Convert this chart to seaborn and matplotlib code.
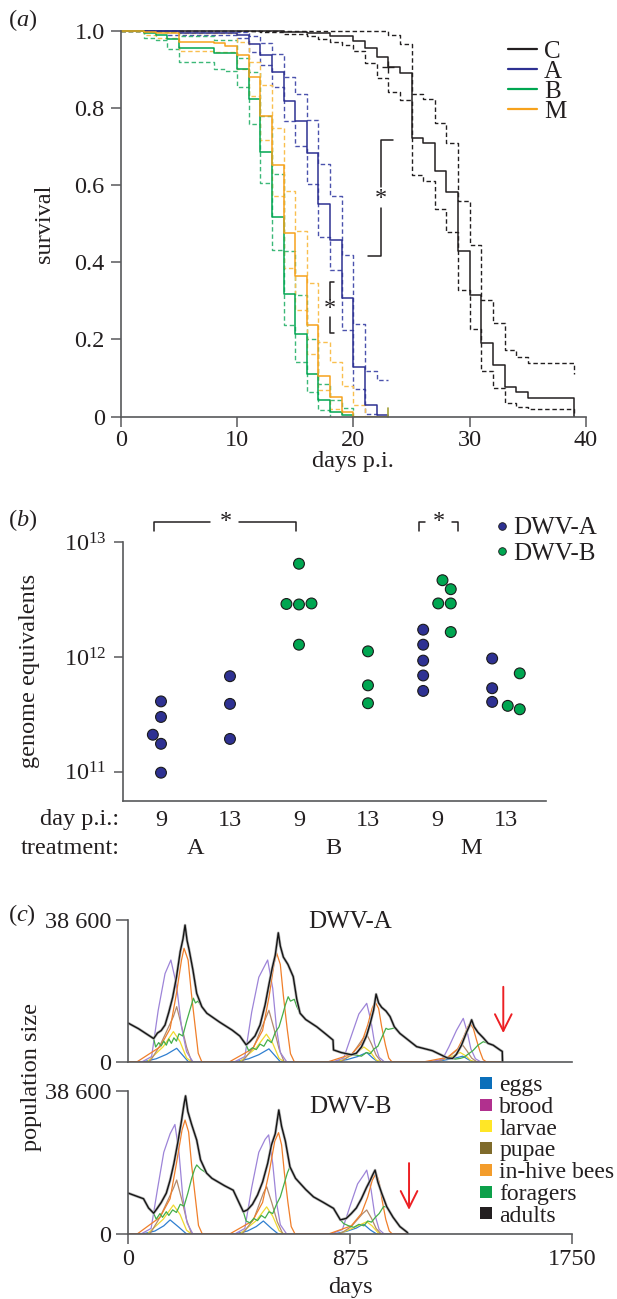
import numpy as np
import pandas as pd
import matplotlib
matplotlib.use("Agg")
import matplotlib.pyplot as plt
import matplotlib.patheffects as pe
from matplotlib.lines import Line2D
import seaborn as sns

# ---------------- panel (a): survival (Kaplan-Meier steps) ----------------
C_day = [0, 10, 14, 16, 18, 20, 21, 22, 23, 24, 25, 26, 27, 28, 29, 30, 31, 32, 33, 34, 35, 39]
C_surv = [1.0, 0.998, 0.996, 0.993, 0.986, 0.974, 0.956, 0.931, 0.907, 0.891, 0.723, 0.708, 0.637,
          0.581, 0.429, 0.315, 0.190, 0.134, 0.078, 0.065, 0.049, 0.0]
C_hi_day = [0, 23, 24, 25, 26, 27, 28, 29, 30, 31, 32, 33, 34, 35, 39]
C_hi = [1.0, 0.988, 0.965, 0.836, 0.822, 0.760, 0.708, 0.559, 0.445, 0.302, 0.242, 0.173, 0.155, 0.138, 0.110]
C_lo_day = [0, 12, 14, 16, 17, 18, 19, 20, 21, 22, 23, 24, 25, 26, 27, 28, 29, 30, 31, 32, 33, 34, 35, 39]
C_lo = [1.0, 0.997, 0.992, 0.985, 0.978, 0.970, 0.962, 0.948, 0.915, 0.877, 0.842, 0.820, 0.626, 0.611,
        0.537, 0.479, 0.328, 0.226, 0.118, 0.075, 0.036, 0.026, 0.019, 0.0]

A_day = [0, 2, 5, 10, 11, 12, 13, 14, 15, 16, 17, 18, 19, 20, 21, 22, 23]
A_surv = [1.0, 0.998, 0.993, 0.989, 0.965, 0.937, 0.892, 0.819, 0.765, 0.682, 0.551, 0.459, 0.307,
          0.130, 0.030, 0.004, 0.0]
A_hi_day = [0, 5, 10, 11, 12, 13, 14, 15, 16, 17, 18, 19, 20, 21, 22, 23]
A_hi = [1.0, 0.998, 0.997, 0.986, 0.967, 0.939, 0.879, 0.836, 0.769, 0.655, 0.573, 0.420, 0.239, 0.119, 0.095, 0.095]
A_lo_day = [0, 4, 10, 11, 12, 13, 14, 15, 16, 17, 18, 19, 20, 21, 22]
A_lo = [1.0, 0.990, 0.980, 0.946, 0.910, 0.855, 0.767, 0.700, 0.604, 0.466, 0.380, 0.225, 0.073, 0.006, 0.0]

B_day = [0, 2, 3, 4, 5, 8, 10, 11, 12, 13, 14, 15, 16, 17, 18, 19, 20, 23]
B_surv = [1.0, 0.994, 0.990, 0.979, 0.955, 0.943, 0.900, 0.822, 0.686, 0.518, 0.318, 0.213, 0.110,
          0.043, 0.013, 0.004, 0.0, 0.0]
B_hi_day = [0, 4, 5, 8, 10, 11, 12, 13, 14, 15, 16, 17, 18, 19, 20]
B_hi = [1.0, 0.997, 0.985, 0.975, 0.930, 0.894, 0.780, 0.629, 0.430, 0.315, 0.200, 0.086, 0.043, 0.022, 0.0]
B_lo_day = [0, 2, 3, 4, 5, 8, 9, 10, 11, 12, 13, 14, 15, 16, 17, 18]
B_lo = [1.0, 0.980, 0.975, 0.953, 0.918, 0.900, 0.895, 0.853, 0.757, 0.605, 0.432, 0.237, 0.142, 0.065, 0.017, 0.0]

M_day = [0, 2, 3, 5, 8, 9, 10, 11, 12, 13, 14, 15, 16, 17, 18, 19, 20, 23]
M_surv = [1.0, 0.997, 0.993, 0.970, 0.967, 0.960, 0.937, 0.879, 0.780, 0.652, 0.475, 0.364, 0.237,
          0.105, 0.052, 0.012, 0.0, 0.0]
M_hi_day = [0, 5, 10, 11, 12, 13, 14, 15, 16, 17, 18, 19, 20, 21]
M_hi = [1.0, 0.995, 0.970, 0.920, 0.860, 0.747, 0.585, 0.480, 0.347, 0.194, 0.142, 0.080, 0.030, 0.0]
M_lo_day = [0, 2, 3, 5, 8, 10, 11, 12, 13, 14, 15, 16, 17, 18, 19]
M_lo = [1.0, 0.990, 0.980, 0.948, 0.945, 0.900, 0.830, 0.717, 0.572, 0.384, 0.276, 0.162, 0.069, 0.020, 0.0]

surv_groups = ["C", "A", "B", "M"]
x_ticks_a = [0, 10, 20, 30, 40]
y_ticks_a = [0, 0.2, 0.4, 0.6, 0.8, 1.0]
y_ticklabels_a = ["0", "0.2", "0.4", "0.6", "0.8", "1.0"]

# ---------------- panel (b): genome equivalents ----------------
b_categories = ["A9", "A13", "B9", "B13", "M9", "M13"]
b_day_labels = ["9", "13", "9", "13", "9", "13"]
b_treatments = ["A", "B", "M"]
A9_dwvA = [3.0e11, 4.1e11, 1.75e11, 2.1e11, 9.8e10]
A13_dwvA = [6.8e11, 3.9e11, 1.93e11]
B9_dwvB = [6.5e12, 2.87e12, 2.9e12, 2.93e12, 1.28e12]
B13_dwvB = [1.12e12, 5.66e11, 3.95e11]
M9_dwvA = [1.73e12, 1.28e12, 9.3e11, 6.9e11, 5.06e11]
M9_dwvB = [4.67e12, 3.9e12, 2.93e12, 2.93e12, 1.65e12]
M13_dwvA = [9.7e11, 5.34e11, 4.06e11]
M13_dwvB = [7.2e11, 3.75e11, 3.5e11]

# ---------------- panel (c): simulated colony dynamics ----------------
c_series = ["eggs", "brood", "larvae", "pupae", "in-hive bees", "foragers", "adults"]

ca_eggs_day = [0, 60, 110, 151, 191, 218, 237, 425, 475, 515, 555, 582, 600, 815, 865, 905, 941, 965, 985,
               1195, 1245, 1285, 1320, 1342, 1360, 1476]
ca_eggs_val = [0, 0, 800, 2000, 3650, 1500, 0, 0, 800, 1900, 3500, 1400, 0, 0, 600, 1400, 2500, 1000, 0,
               0, 400, 900, 1500, 600, 0, 0]
ca_brood_day = [0, 55, 92, 118, 145, 168, 190, 210, 230, 255, 420, 460, 487, 515, 550, 570, 585, 600, 625,
                810, 850, 880, 910, 941, 958, 972, 990, 1010, 1200, 1240, 1265, 1295, 1322, 1338, 1352, 1370, 1390, 1476]
ca_brood_val = [0, 0, 1400, 14000, 24000, 27700, 21000, 9500, 2700, 0, 0, 1400, 13500, 23000, 27700, 20000, 9000, 2500, 0,
                0, 1000, 7000, 13000, 15900, 11000, 5000, 1200, 0, 0, 700, 4000, 8500, 11800, 8000, 3500, 800, 0, 0]
ca_larvae_day = [0, 75, 138, 178, 204, 230, 250, 440, 505, 545, 570, 595, 615, 830, 890, 930, 955, 978, 995,
                 1210, 1270, 1310, 1332, 1352, 1370, 1476]
ca_larvae_val = [0, 0, 4100, 8200, 5500, 1000, 0, 0, 3800, 7500, 5000, 900, 0, 0, 2000, 4000, 2700, 500, 0,
                 0, 1200, 2500, 1600, 300, 0, 0]
ca_pupae_day = [0, 85, 125, 178, 191, 211, 230, 250, 450, 495, 540, 555, 575, 595, 615, 840, 885, 925, 941, 960,
                978, 998, 1220, 1265, 1305, 1320, 1338, 1355, 1375, 1476]
ca_pupae_val = [0, 0, 4400, 12300, 15000, 9500, 4000, 0, 0, 4000, 11500, 14000, 9000, 3500, 0, 0, 2200, 6200, 7500, 4800,
                1800, 0, 0, 1300, 3700, 4500, 2800, 1000, 0, 0]
ca_inhive_day = [0, 35, 125, 165, 190, 210, 220, 236, 249, 264, 276, 290, 400, 490, 530, 555, 575, 585, 600, 612,
                 627, 640, 655, 790, 880, 920, 945, 962, 974, 988, 1000, 1015, 1028, 1040, 1170, 1260, 1300, 1322,
                 1340, 1349, 1362, 1374, 1388, 1400, 1412, 1476]
ca_inhive_val = [0, 0, 4000, 9000, 18600, 27700, 30900, 27700, 18600, 9500, 2300, 0, 0, 3500, 8500, 17500, 26500, 29700,
                 26500, 18000, 9000, 2200, 0, 0, 2000, 5000, 10000, 14500, 16300, 14500, 9500, 4500, 1000, 0, 0, 1200,
                 3500, 6500, 9500, 10500, 9000, 6000, 2800, 600, 0, 0]
ca_forager_day = [0, 40, 100, 108, 120, 130, 140, 150, 160, 170, 180, 190, 200, 215, 230, 245, 257, 265, 275, 290,
                  310, 360, 410, 440, 465, 475, 490, 505, 520, 535, 550, 565, 580, 595, 610, 620, 631, 640, 655, 665,
                  678, 700, 744, 780, 808, 810, 840, 880, 900, 920, 940, 955, 970, 985, 1000, 1017, 1025, 1040, 1050,
                  1072, 1138, 1200, 1260, 1280, 1290, 1310, 1325, 1340, 1360, 1380, 1401, 1420, 1440, 1467, 1476, 1477]
ca_forager_val = [10500, 9000, 6300, 4000, 5200, 4300, 5600, 4500, 6200, 5000, 6500, 5600, 7600, 7000, 11000, 14500,
                  17300, 16000, 16500, 15000, 13200, 10800, 8600, 7000, 4600, 3000, 3800, 3300, 4800, 4200, 6000,
                  5200, 8000, 9500, 13000, 15500, 17700, 16500, 17000, 15000, 13200, 11500, 9500, 7500, 5900, 3200,
                  2500, 1900, 1800, 1500, 2500, 2200, 3500, 4200, 6500, 9100, 8800, 9000, 9200, 7700, 4100, 3000,
                  1000, 900, 700, 900, 1200, 2000, 3000, 4500, 5450, 5000, 4500, 3200, 2800, 0]
ca_adult_day = [0, 40, 100, 115, 130, 145, 160, 175, 190, 205, 216, 224, 232, 240, 255, 270, 290, 310, 360, 410,
                440, 465, 480, 500, 520, 540, 555, 568, 580, 592, 600, 612, 630, 651, 665, 678, 700, 744, 780, 808,
                810, 840, 880, 900, 920, 940, 955, 968, 978, 988, 1000, 1017, 1033, 1050, 1072, 1138, 1200, 1260,
                1280, 1295, 1315, 1335, 1348, 1355, 1365, 1380, 1401, 1420, 1440, 1467, 1476, 1477]
ca_adult_val = [10500, 9000, 6300, 7800, 8500, 10000, 13500, 17500, 23000, 30000, 33500, 37200, 33000, 30500, 25000,
                18600, 15000, 13200, 10800, 8600, 7000, 4600, 5500, 7000, 10000, 15500, 21000, 25500, 29000, 35100,
                31500, 28500, 26500, 23150, 17000, 13200, 11500, 9500, 7500, 5900, 3200, 2500, 1900, 2300, 4000,
                7000, 10500, 14000, 18400, 16000, 14800, 13800, 12300, 9500, 7700, 4100, 3000, 1000, 900, 2000,
                4500, 8000, 10000, 11400, 9500, 8000, 6500, 5000, 4500, 3200, 2800, 0]

cb_eggs_day = [0, 55, 105, 140, 165, 200, 230, 420, 470, 505, 533, 565, 592, 810, 860, 900, 928, 955, 980, 1105]
cb_eggs_val = [0, 0, 800, 2200, 3800, 1800, 0, 0, 800, 2000, 3500, 1500, 0, 0, 700, 1600, 2700, 1100, 0, 0]
cb_brood_day = [0, 50, 90, 115, 140, 165, 184, 200, 215, 232, 255, 420, 460, 487, 515, 540, 554, 570, 585, 600, 625,
                800, 845, 875, 905, 930, 941, 958, 972, 990, 1010, 1105]
cb_brood_val = [0, 0, 1500, 12000, 22000, 27000, 29500, 22000, 10000, 3000, 0, 0, 1500, 12500, 22000, 25500, 26700,
                19000, 8500, 2500, 0, 0, 1200, 7500, 13500, 16000, 17200, 12000, 5500, 1200, 0, 0]
cb_larvae_day = [0, 75, 138, 178, 204, 230, 250, 440, 505, 546, 570, 595, 615, 830, 890, 941, 962, 985, 1000, 1105]
cb_larvae_val = [0, 0, 4000, 7800, 5300, 1000, 0, 0, 3600, 7300, 4800, 900, 0, 0, 1700, 3300, 2200, 400, 0, 0]
cb_pupae_day = [0, 85, 125, 178, 191, 211, 230, 250, 450, 495, 533, 546, 566, 588, 610, 835, 880, 925, 941, 960, 978,
                998, 1105]
cb_pupae_val = [0, 0, 4500, 12300, 14550, 9300, 3800, 0, 0, 4000, 11000, 12740, 8500, 3300, 0, 0, 2000, 5500, 6470,
                4200, 1500, 0, 0]
cb_inhive_day = [0, 35, 125, 165, 190, 212, 224, 238, 250, 265, 277, 292, 400, 490, 530, 557, 578, 593, 605, 616,
                 630, 643, 658, 790, 880, 920, 945, 963, 978, 990, 1002, 1016, 1030, 1042, 1105]
cb_inhive_val = [0, 0, 4500, 9500, 19000, 28000, 30700, 27500, 18500, 9500, 2300, 0, 0, 3500, 8500, 17000, 25000,
                 27300, 24000, 16500, 8500, 2000, 0, 0, 2200, 5500, 10000, 14500, 16350, 14000, 9000, 4000, 800, 0, 0]
cb_forager_day = [0, 40, 60, 80, 100, 110, 125, 135, 150, 160, 175, 190, 205, 220, 235, 250, 262, 270, 285, 309,
                  330, 380, 414, 440, 454, 465, 480, 495, 510, 525, 540, 555, 570, 585, 600, 615, 628, 638, 660, 700,
                  731, 770, 810, 837, 850, 870, 890, 910, 930, 945, 960, 975, 990, 1007, 1020, 1045, 1072, 1100, 1105]
cb_forager_val = [11000, 10000, 9500, 7000, 5600, 4000, 5500, 4500, 6000, 5000, 6500, 5800, 8000, 7500, 11000, 15000,
                  17500, 18600, 17500, 16400, 15000, 13000, 11800, 8000, 6000, 3500, 3000, 4200, 3600, 5000, 4300,
                  6000, 5500, 8000, 10000, 13500, 16500, 18100, 15000, 12000, 10000, 8500, 6900, 3800, 2800, 2200,
                  1800, 2600, 2200, 3500, 3200, 4500, 5500, 7350, 7350, 4500, 2000, 500, 0]
cb_adult_day = [0, 40, 60, 80, 100, 115, 130, 150, 165, 180, 195, 210, 220, 226, 235, 250, 270, 285, 309, 330,
                380, 414, 440, 454, 470, 490, 510, 530, 550, 565, 580, 594, 605, 620, 638, 660, 700, 731, 770, 810,
                837, 860, 880, 900, 920, 940, 955, 965, 974, 985, 1000, 1020, 1045, 1072, 1100, 1105]
cb_adult_val = [11000, 10000, 9500, 7000, 5600, 7000, 8500, 11000, 14500, 19000, 24500, 30500, 35000, 37200, 33000,
                29500, 25300, 20000, 16400, 15000, 13000, 11800, 8000, 6000, 6500, 8000, 10500, 14000, 19000, 24000,
                27000, 33400, 29000, 25000, 18100, 15000, 12000, 10000, 8500, 6900, 3800, 4200, 5500, 7000, 9500,
                12500, 14500, 16000, 17200, 14000, 11000, 7350, 4500, 2000, 500, 0]

c_xticks = [0, 875, 1750]
c_yticks = [0, 38600]
c_yticklabels = ["0", "38 600"]

# ---------------- style ----------------
sns.set_style("ticks")
plt.rcParams["font.family"] = ["Liberation Serif", "DejaVu Serif"]
plt.rcParams["mathtext.fontset"] = "custom"
plt.rcParams["mathtext.rm"] = "Liberation Serif"
plt.rcParams["mathtext.it"] = "Liberation Serif:italic"
plt.rcParams["mathtext.bf"] = "Liberation Serif:bold"

TXT = "#231f20"
SP = "#58595b"
FS = 17.5
LFS = 18

W, H = 617, 1299
fig = plt.figure(figsize=(W / 100, H / 100), dpi=100)


def fx(x):
    return x / W


def fy(y):
    return 1 - y / H


def add_ax(l, t, r, b):
    return fig.add_axes([fx(l), fy(b), (r - l) / W, (b - t) / H])


def style_axis(ax, tick_len):
    for s in ["left", "bottom"]:
        ax.spines[s].set_color(SP)
        ax.spines[s].set_linewidth(1.2)
    ax.tick_params(length=tick_len, width=1.1, color=SP, labelsize=FS, labelcolor=TXT)


# ================= panel (a) =================
axA = add_ax(120.7, 19.1, 586, 416.7)
colA = {"C": "#231f20", "A": "#2e3192", "B": "#00a651", "M": "#f6a21c"}
colA_d = {"C": "#231f20", "A": "#4b52ad", "B": "#3cb878", "M": "#f9bf4f"}
solid = {"C": (C_day, C_surv), "A": (A_day, A_surv), "B": (B_day, B_surv), "M": (M_day, M_surv)}
upper = {"C": (C_hi_day, C_hi), "A": (A_hi_day, A_hi), "B": (B_hi_day, B_hi), "M": (M_hi_day, M_hi)}
lower = {"C": (C_lo_day, C_lo), "A": (A_lo_day, A_lo), "B": (B_lo_day, B_lo), "M": (M_lo_day, M_lo)}
dash = (0, (3.2, 2.0))
for g in surv_groups:
    for (d, s) in (upper[g], lower[g]):
        sns.lineplot(x=d, y=s, ax=axA, color=colA_d[g], lw=1.0, linestyle=dash,
                     drawstyle="steps-post", estimator=None, sort=False, legend=False)
for g in surv_groups:
    d, s = solid[g]
    sns.lineplot(x=d, y=s, ax=axA, color=colA[g], lw=1.1, drawstyle="steps-post",
                 estimator=None, sort=False, legend=False)
# censor marks
axA.plot([23], [0.907], marker="+", ms=9, mew=1.0, color=TXT, ls="")
axA.plot([23, 23], [0, 0.022], color="#a3a13a", lw=1.2, clip_on=False)

# significance brackets
axA.plot([18.35, 18.0, 18.0], [0.348, 0.348, 0.305], color=TXT, lw=1.1)
axA.plot([18.35, 18.0, 18.0], [0.216, 0.216, 0.258], color=TXT, lw=1.1)
axA.text(18.0, 0.281, "*", ha="center", va="center", fontsize=FS, color=TXT)
axA.plot([23.4, 22.35, 22.35], [0.718, 0.718, 0.595], color=TXT, lw=1.1)
axA.plot([21.3, 22.35, 22.35], [0.416, 0.416, 0.540], color=TXT, lw=1.1)
axA.text(22.35, 0.565, "*", ha="center", va="center", fontsize=FS, color=TXT)

axA.set_xlim(0, 40)
axA.set_ylim(0, 1.03)
axA.set_xticks(x_ticks_a)
axA.set_yticks(y_ticks_a)
axA.set_yticklabels(y_ticklabels_a)
sns.despine(ax=axA)
axA.spines["left"].set_bounds(0, 1)
style_axis(axA, 7.5)
axA.tick_params(axis="x", pad=2)
axA.tick_params(axis="y", pad=4)
axA.set_xlabel("days p.i.", fontsize=FS, color=TXT, va="center")
axA.xaxis.set_label_coords(0.5, (416.7 - 462) / 397.6)
axA.set_ylabel("survival", fontsize=FS, color=TXT, va="center")
axA.yaxis.set_label_coords((45 - 120.7) / 465.3, (416.7 - 223.7) / 397.6)
hA = [Line2D([0], [0], color=colA[g], lw=1.6) for g in surv_groups]
axA.legend(hA, surv_groups, loc="upper left", bbox_to_anchor=(fx(508), fy(40)),
           bbox_transform=fig.transFigure, frameon=False, fontsize=LFS, handlelength=1.15,
           handletextpad=0.3, labelspacing=-0.1, borderpad=0, borderaxespad=0,
           labelcolor=TXT)
fig.text(fx(8), fy(20), r"($\mathit{a}$)", ha="left", va="center", fontsize=FS, color=TXT)

# ================= panel (b) =================
axB = add_ax(122.7, 542.3, 545.7, 800.7)
axB.set_yscale("log")
rows = []
for cat, virus, vals in [("A9", "DWV-A", A9_dwvA), ("A13", "DWV-A", A13_dwvA),
                         ("B9", "DWV-B", B9_dwvB), ("B13", "DWV-B", B13_dwvB),
                         ("M9", "DWV-A", M9_dwvA), ("M9", "DWV-B", M9_dwvB),
                         ("M13", "DWV-A", M13_dwvA), ("M13", "DWV-B", M13_dwvB)]:
    for v in vals:
        rows.append({"group": cat, "virus": virus, "ge": v})
dfb = pd.DataFrame(rows)
pal_b = {"DWV-A": "#2e3192", "DWV-B": "#00a651"}
single = dfb[dfb["group"].isin(["A9", "A13", "B9", "B13"])]
mixed = dfb[dfb["group"].isin(["M9", "M13"])]
sns.swarmplot(data=single, x="group", y="ge", hue="virus", order=b_categories,
              hue_order=["DWV-A", "DWV-B"], palette=pal_b, size=7.8, linewidth=0.8,
              edgecolor="#1a1a1a", ax=axB, legend=False)
sns.swarmplot(data=mixed, x="group", y="ge", hue="virus", order=b_categories,
              hue_order=["DWV-A", "DWV-B"], palette=pal_b, size=7.8, linewidth=0.8,
              edgecolor="#1a1a1a", dodge=True, ax=axB, legend=False)
axB.set_xlim(-0.555, 5.576)
axB.set_ylim(10 ** 10.747, 1e13)
axB.set_yticks([1e11, 1e12, 1e13])
axB.set_yticklabels([r"$10^{11}$", r"$10^{12}$", r"$10^{13}$"])
axB.yaxis.set_minor_locator(matplotlib.ticker.NullLocator())
axB.set_xticks(range(len(b_categories)))
axB.set_xticklabels(b_day_labels)
sns.despine(ax=axB)
style_axis(axB, 6.5)
axB.tick_params(axis="x", length=0, pad=7)
axB.tick_params(axis="y", pad=5)
axB.set_xlabel("")
axB.set_ylabel("genome equivalents", fontsize=FS, color=TXT, va="center")
axB.yaxis.set_label_coords((30 - 122.7) / 423.0, (800.7 - 671) / 258.4)
trB = matplotlib.transforms.blended_transform_factory(axB.transData, axB.transAxes)
axB.text(-0.6, (800.7 - 820) / 258.4, "day p.i.:", transform=trB, ha="right", va="center",
         fontsize=FS, color=TXT)
axB.text(-0.6, (800.7 - 848) / 258.4, "treatment:", transform=trB, ha="right", va="center",
         fontsize=FS, color=TXT)
for i, t in enumerate(b_treatments):
    axB.text(2 * i + 0.5, (800.7 - 848) / 258.4, t, transform=trB, ha="center", va="center",
             fontsize=FS, color=TXT)
# brackets
yh, yl = 10 ** 13.177, 10 ** 13.096
axB.plot([-0.10, -0.10, 0.71], [yl, yh, yh], color=TXT, lw=1.1, clip_on=False)
axB.plot([1.13, 1.96, 1.96], [yh, yh, yl], color=TXT, lw=1.1, clip_on=False)
axB.text(0.94, yh, "*", ha="center", va="center", fontsize=FS, color=TXT)
axB.plot([3.743, 3.743, 3.826], [yl, yh, yh], color=TXT, lw=1.1, clip_on=False)
axB.plot([4.213, 4.30, 4.30], [yh, yh, yl], color=TXT, lw=1.1, clip_on=False)
axB.text(4.033, yh, "*", ha="center", va="center", fontsize=FS, color=TXT)
hB = [Line2D([0], [0], marker="o", ls="", markersize=5.5, markerfacecolor=pal_b[k],
             markeredgecolor="#1a1a1a", markeredgewidth=0.6) for k in ["DWV-A", "DWV-B"]]
axB.legend(hB, ["DWV-A", "DWV-B"], loc="upper left", bbox_to_anchor=(fx(496), fy(517)),
           bbox_transform=fig.transFigure, frameon=False, fontsize=LFS, handlelength=0.45,
           handletextpad=0.22, labelspacing=0.1, borderpad=0, borderaxespad=0, labelcolor=TXT)
fig.text(fx(8), fy(520), r"($\mathit{b}$)", ha="left", va="center", fontsize=FS, color=TXT)

# ================= panel (c) =================
ax_c1 = add_ax(128.3, 920, 571.7, 1061.7)
ax_c2 = add_ax(128.3, 1090.7, 571.7, 1234)
line_col = {"eggs": "#2f7fd0", "brood": "#9d84d8", "larvae": "#f0d930", "pupae": "#b38a6c",
            "in-hive bees": "#f07f2a", "foragers": "#44ae4a", "adults": "#151515"}
leg_col = {"eggs": "#0b6fba", "brood": "#b1308e", "larvae": "#ffe626", "pupae": "#7f6b2b",
           "in-hive bees": "#f39c2b", "foragers": "#0da04a", "adults": "#231f20"}
top_data = {"eggs": (ca_eggs_day, ca_eggs_val), "brood": (ca_brood_day, ca_brood_val),
            "larvae": (ca_larvae_day, ca_larvae_val), "pupae": (ca_pupae_day, ca_pupae_val),
            "in-hive bees": (ca_inhive_day, ca_inhive_val), "foragers": (ca_forager_day, ca_forager_val),
            "adults": (ca_adult_day, ca_adult_val)}
bot_data = {"eggs": (cb_eggs_day, cb_eggs_val), "brood": (cb_brood_day, cb_brood_val),
            "larvae": (cb_larvae_day, cb_larvae_val), "pupae": (cb_pupae_day, cb_pupae_val),
            "in-hive bees": (cb_inhive_day, cb_inhive_val), "foragers": (cb_forager_day, cb_forager_val),
            "adults": (cb_adult_day, cb_adult_val)}
draw_order = ["eggs", "larvae", "pupae", "brood", "in-hive bees", "foragers", "adults"]
for ax, data, title, ty, arrow in [
        (ax_c1, top_data, "DWV-A", 38100, (1480, 20400, 7800)),
        (ax_c2, bot_data, "DWV-B", 34300, (1108, 19100, 6500))]:
    for name in draw_order:
        d, v = data[name]
        if name == "adults":
            sns.lineplot(x=d, y=v, ax=ax, color=line_col[name], lw=1.0, estimator=None, sort=False,
                         legend=False,
                         path_effects=[pe.Stroke(linewidth=2.0, foreground="#b5b5b5"), pe.Normal()])
        else:
            sns.lineplot(x=d, y=v, ax=ax, color=line_col[name], lw=0.9, estimator=None, sort=False,
                         legend=False)
    ax.set_xlim(0, 1750)
    ax.set_ylim(0, 38600)
    ax.set_yticks(c_yticks)
    ax.set_yticklabels(c_yticklabels)
    ax.set_xticks(c_xticks)
    sns.despine(ax=ax)
    style_axis(ax, 9)
    ax.tick_params(axis="y", pad=3.5)
    ax.set_xlabel("")
    ax.set_ylabel("")
    ax.text(875, ty, title, ha="center", va="center", fontsize=LFS, color=TXT)
    ax.annotate("", xy=(arrow[0], arrow[2]), xytext=(arrow[0], arrow[1]),
                arrowprops=dict(arrowstyle="->,head_length=1.2,head_width=0.6", color="#ed2024",
                                lw=1.4, shrinkA=0, shrinkB=0, mutation_scale=10))
ax_c1.tick_params(axis="x", length=0, labelbottom=False)
ax_c2.tick_params(axis="x", length=7.5, pad=3)
ax_c2.set_xlabel("days", fontsize=FS, color=TXT, va="center")
ax_c2.xaxis.set_label_coords(0.5, (1234 - 1288) / 143.3)
ax_c2.set_ylabel("population size", fontsize=FS, color=TXT, va="center")
ax_c2.yaxis.set_label_coords((32 - 128.3) / 443.4, (1234 - 1077) / 143.3)
hC = [Line2D([0], [0], marker="s", ls="", markersize=8.2, markerfacecolor=leg_col[k],
             markeredgecolor=leg_col[k], markeredgewidth=0) for k in c_series]
ax_c2.legend(hC, c_series, loc="upper left", bbox_to_anchor=(fx(478), fy(1074.5)),
             bbox_transform=fig.transFigure, frameon=False, fontsize=17, handlelength=0.65,
             handletextpad=0.25, labelspacing=0.01, borderpad=0, borderaxespad=0, labelcolor=TXT)
fig.text(fx(8), fy(915), r"($\mathit{c}$)", ha="left", va="center", fontsize=FS, color=TXT)

fig.savefig("out.png", dpi=100)
